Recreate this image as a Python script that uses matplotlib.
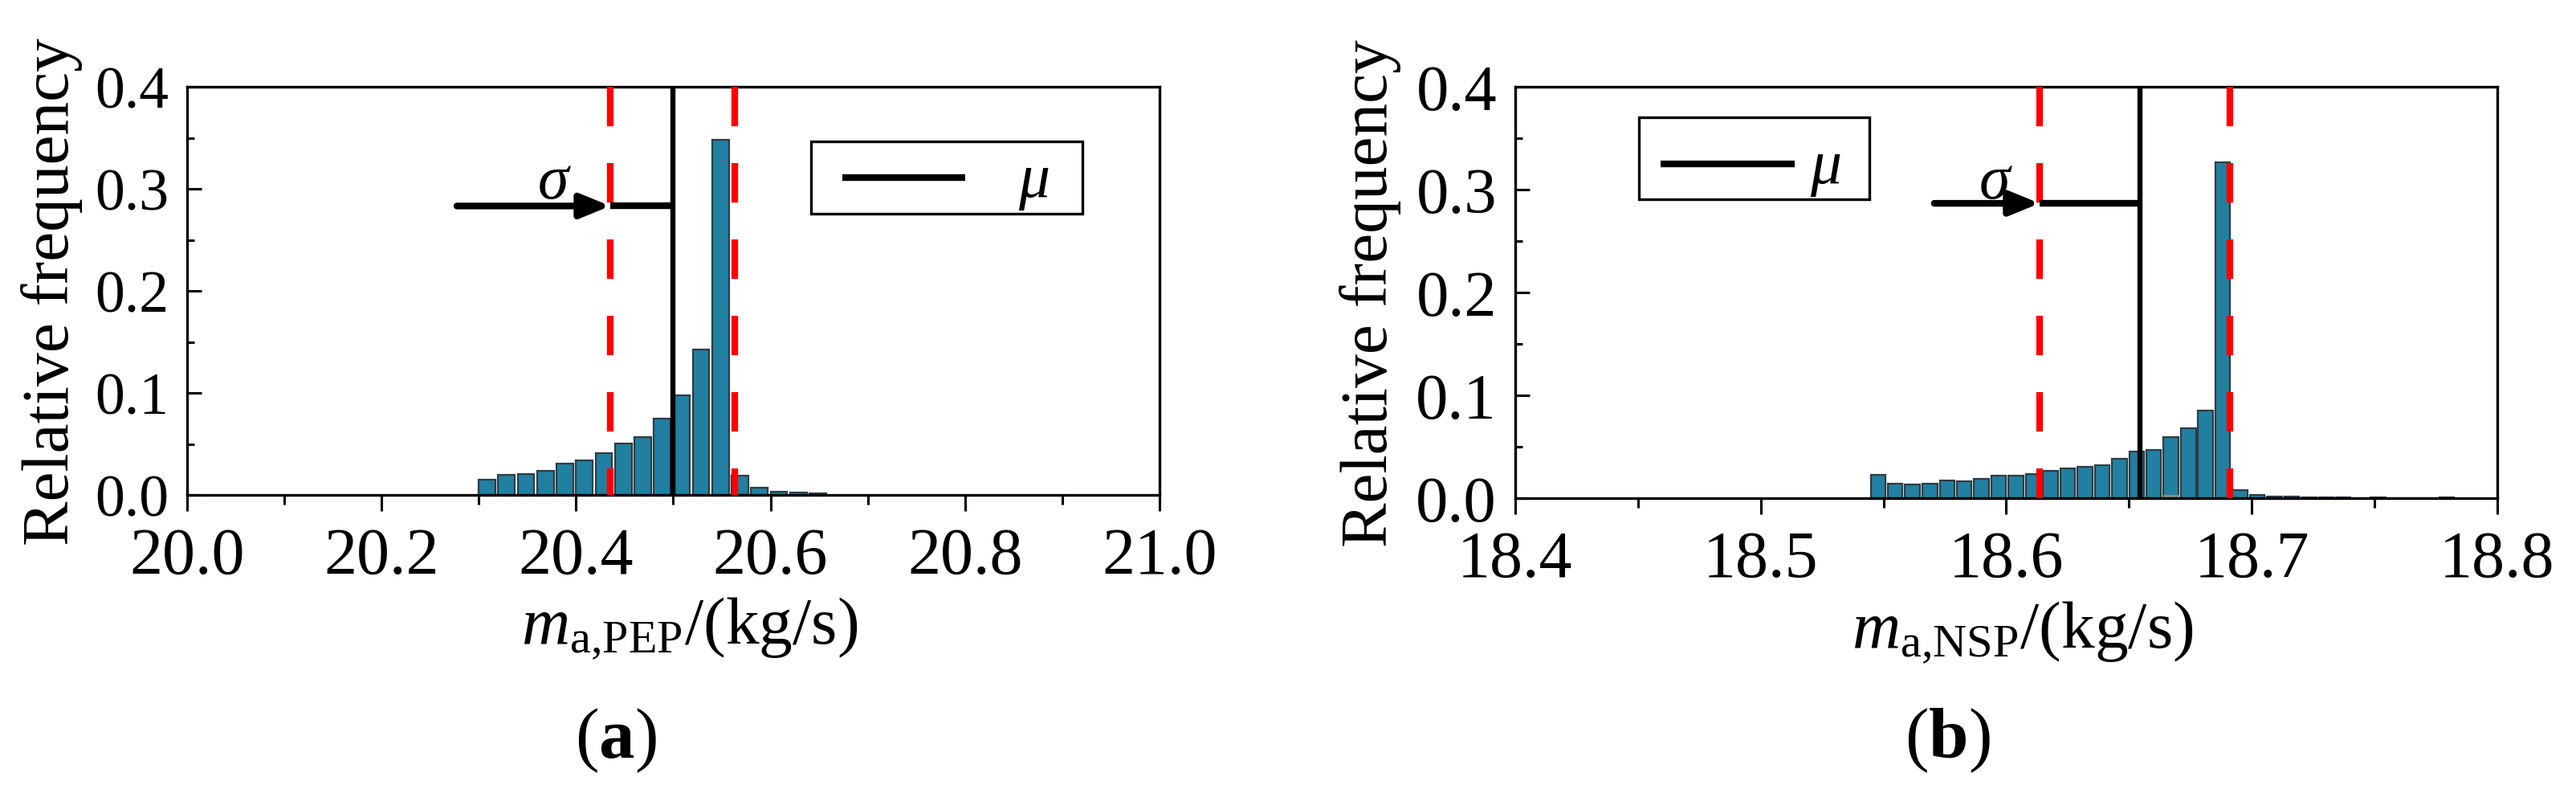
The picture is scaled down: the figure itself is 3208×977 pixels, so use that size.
import numpy as np
import matplotlib
matplotlib.use('Agg')
import matplotlib.pyplot as plt
from matplotlib.patches import Rectangle
from matplotlib.ticker import MultipleLocator

plt.rcParams['font.family'] = ['Liberation Serif']
plt.rcParams['mathtext.fontset'] = 'custom'
plt.rcParams['mathtext.rm'] = 'Liberation Serif'
plt.rcParams['mathtext.it'] = 'Liberation Serif:italic'
plt.rcParams['mathtext.bf'] = 'Liberation Serif:bold'

# (a) PEP histogram
a_left = [20.30, 20.32, 20.34, 20.36, 20.38, 20.40, 20.42, 20.44, 20.46,
          20.48, 20.50, 20.52, 20.54, 20.56, 20.58, 20.60, 20.62, 20.64]
a_freq = [0.0152, 0.0197, 0.0207, 0.0236, 0.0304, 0.0339, 0.0410, 0.0507, 0.0567,
          0.0745, 0.0974, 0.1425, 0.3478, 0.0192, 0.0068, 0.0034, 0.0026, 0.0016]
a_mu = 20.4995
a_sig = [20.4353, 20.5634]
a_arrow = [20.2775, 0.2832]
a_ticks = [20.0, 20.2, 20.4, 20.6, 20.8, 21.0]

# (b) NSP histogram
b_left = [18.5448, 18.5518, 18.5588, 18.5659, 18.5729, 18.5799, 18.5869, 18.5939,
          18.6010, 18.6080, 18.6150, 18.6220, 18.6290, 18.6361, 18.6431, 18.6501,
          18.6571, 18.6641, 18.6712, 18.6782, 18.6852, 18.6922, 18.6992, 18.7062,
          18.7133, 18.7203, 18.7273, 18.7343, 18.7414, 18.7484, 18.7554, 18.7624,
          18.7694, 18.7765]
b_freq = [0.0229, 0.0143, 0.0130, 0.0138, 0.0172, 0.0164, 0.0190, 0.0216,
          0.0216, 0.0232, 0.0268, 0.0286, 0.0305, 0.0323, 0.0383, 0.0450,
          0.0471, 0.0594, 0.0680, 0.0854, 0.3263, 0.0081, 0.0034, 0.0013,
          0.0018, 0.0006, 0.0006, 0.0006, 0.0003, 0.0008, 0.0002, 0.0002,
          0.0002, 0.0008]
b_gray_left = [18.6641]
b_gray_freq = [0.0030]
b_mu = 18.6544
b_sig = [18.6136, 18.6910]
b_arrow = [18.5707, 0.2867]
b_ticks = [18.4, 18.5, 18.6, 18.7, 18.8]

BAR_FC = '#2180a1'
BAR_EC = '#2e3c44'
LW_LINE = 6.0


def panel(ax, left, freq, binw, mu, sig, arrow, ticks, minor, xlab,
          sig_xy, leg_box, leg_line, leg_txt, ylab_x, ysize):
    ax.bar(left, freq, width=binw * 0.86, align='edge', color=BAR_FC,
           edgecolor=BAR_EC, linewidth=1.6, zorder=2)
    for s in sig:
        ax.axvline(s, ymin=1, ymax=0, color='#ff0000', lw=6.0,
                   dashes=(5.9, 5.5), zorder=3)
    ax.axvline(mu, color='k', lw=4.6, zorder=4)

    # sigma arrow
    ax.annotate('', xy=(sig[0], arrow[1]), xytext=(arrow[0], arrow[1]),
                arrowprops=dict(arrowstyle='-|>,head_length=22,head_width=9',
                                mutation_scale=1, lw=LW_LINE, color='k',
                                shrinkA=0, shrinkB=0), zorder=5)
    ax.plot([sig[0], mu], [arrow[1], arrow[1]], color='k', lw=LW_LINE,
            solid_capstyle='butt', zorder=5)
    ax.text(sig_xy[0], sig_xy[1], r'$\sigma$', ha='center', va='baseline',
            fontsize=56, zorder=6)

    # legend box
    x0, y0, x1, y1 = leg_box
    ax.add_patch(Rectangle((x0, y0), x1 - x0, y1 - y0, transform=ax.transAxes,
                           facecolor='white', edgecolor='k', lw=2.4, zorder=7))
    ax.plot(leg_line[:2], [leg_line[2], leg_line[2]], transform=ax.transAxes,
            color='k', lw=LW_LINE, solid_capstyle='butt', zorder=8)
    ax.text(leg_txt[0], leg_txt[1], r'$\mu$', transform=ax.transAxes,
            ha='center', va='baseline', fontsize=56, zorder=8)

    ax.set_xlim(ticks[0], ticks[-1])
    ax.set_ylim(0, 0.4)
    ax.set_xticks(ticks)
    ax.set_xticklabels([f'{t:.1f}' for t in ticks])
    ax.xaxis.set_minor_locator(MultipleLocator(minor))
    ax.set_yticks([0.0, 0.1, 0.2, 0.3, 0.4])
    ax.set_yticklabels(['0.0', '0.1', '0.2', '0.3', '0.4'])
    ax.yaxis.set_minor_locator(MultipleLocator(0.05))
    ax.tick_params(axis='y', which='major', direction='in', length=13,
                   width=2.2, labelsize=ysize, pad=16.5)
    ax.tick_params(axis='y', which='minor', direction='in', length=6.5, width=2.2)
    ax.tick_params(axis='x', which='major', direction='out', length=14.4,
                   width=2.2, labelsize=59, pad=14)
    ax.tick_params(axis='x', which='minor', direction='out', length=8.6, width=2.2)
    for sp in ax.spines.values():
        sp.set_linewidth(2.4)
    ax.set_ylabel('Relative frequency', fontsize=60)
    ax.yaxis.set_label_coords(ylab_x, 0.5)
    ax.set_xlabel(xlab, fontsize=60)
    ax.xaxis.set_label_coords(0.517, -0.245)


fig = plt.figure(figsize=(32.08, 9.78), dpi=100)
ax1 = fig.add_axes([0.0726, 0.3691, 0.3775, 0.5194])
ax2 = fig.add_axes([0.5882, 0.3650, 0.3812, 0.5235])

panel(ax1, a_left, a_freq, 0.02, a_mu, a_sig, a_arrow, a_ticks, 0.1,
      r'$m_{\mathrm{a{,}PEP}}$/(kg/s)', (20.3774, 0.2913),
      (0.6416, 0.689, 0.9207, 0.866), (0.6738, 0.8002, 0.7776), (0.8704, 0.732),
      -0.1073, 53)

panel(ax2, b_left, b_freq, 0.00702, b_mu, b_sig, b_arrow, b_ticks, 0.05,
      r'$m_{\mathrm{a{,}NSP}}$/(kg/s)', (18.5956, 0.2922),
      (0.1259, 0.7266, 0.3606, 0.9258), (0.1480, 0.2845, 0.8125), (0.3156, 0.7676),
      -0.1161, 58)
ax2.bar(b_gray_left, b_gray_freq, width=0.00702 * 0.86, align='edge',
        color='#8a8a8a', edgecolor='#8a8a8a', linewidth=1.0, zorder=2.5)

fig.text(0.2391, 0.0358, r'($\mathbf{a}$)', ha='center', va='baseline', fontsize=64)
fig.text(0.7559, 0.0358, r'($\mathbf{b}$)', ha='center', va='baseline', fontsize=64)

fig.savefig('out.png', dpi=100)
